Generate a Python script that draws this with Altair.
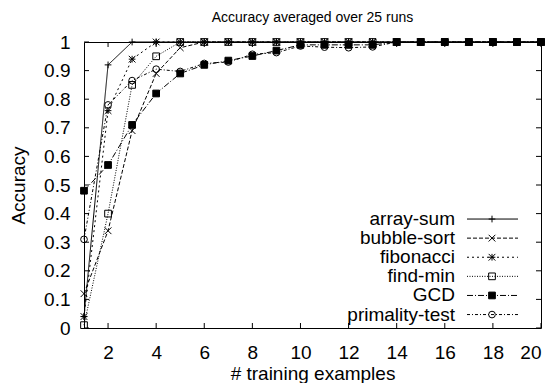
import altair as alt
import pandas as pd

# ---- data ----
x_values = [1, 2, 3, 4, 5, 6, 7, 8, 9, 10, 11, 12, 13, 14, 15, 16, 17, 18, 19, 20]
array_sum = [0.04, 0.92, 1.0, 1.0, 1.0, 1.0, 1.0, 1.0, 1.0, 1.0, 1.0, 1.0, 1.0, 1.0, 1.0, 1.0, 1.0, 1.0, 1.0, 1.0]
bubble_sort = [0.12, 0.34, 0.69, 0.89, 0.98, 1.0, 1.0, 1.0, 1.0, 1.0, 1.0, 1.0, 1.0, 1.0, 1.0, 1.0, 1.0, 1.0, 1.0, 1.0]
fibonacci = [0.04, 0.76, 0.94, 1.0, 1.0, 1.0, 1.0, 1.0, 1.0, 1.0, 1.0, 1.0, 1.0, 1.0, 1.0, 1.0, 1.0, 1.0, 1.0, 1.0]
find_min = [0.01, 0.40, 0.85, 0.95, 1.0, 1.0, 1.0, 1.0, 1.0, 1.0, 1.0, 1.0, 1.0, 1.0, 1.0, 1.0, 1.0, 1.0, 1.0, 1.0]
gcd = [0.48, 0.57, 0.71, 0.82, 0.89, 0.92, 0.935, 0.951, 0.97, 0.99, 0.99, 0.99, 0.99, 1.0, 1.0, 1.0, 1.0, 1.0, 1.0, 1.0]
primality_test = [0.31, 0.78, 0.865, 0.905, 0.897, 0.925, 0.93, 0.957, 0.963, 0.986, 0.982, 0.98, 0.983, 1.0, 1.0, 1.0, 1.0, 1.0, 1.0, 1.0]

series_names = ["array-sum", "bubble-sort", "fibonacci", "find-min", "GCD", "primality-test"]
series_values = [array_sum, bubble_sort, fibonacci, find_min, gcd, primality_test]

x_tick_values = [2, 4, 6, 8, 10, 12, 14, 16, 18, 20]
y_tick_values = [0, 0.1, 0.2, 0.3, 0.4, 0.5, 0.6, 0.7, 0.8, 0.9, 1.0]

chart_title = ["Accuracy averaged over 25 runs"]

# ---- styles ----
PLUS = "M-1,0L1,0M0,-1L0,1"
CROSS = "M-1,-1L1,1M-1,1L1,-1"
STAR = PLUS + CROSS
dash_range = [[1, 0], [4, 2], [2, 3], [1, 1.5], [6, 2, 1, 2], [3, 2, 1, 2]]
shape_range = [PLUS, CROSS, STAR, "square", "square", "circle"]
fill_range = ["transparent", "transparent", "transparent", "transparent", "black", "transparent"]

W, H = 457, 286
FS = 19
TITLE_FS = 14

rows = []
for name, vals in zip(series_names, series_values):
    for x, v in zip(x_values, vals):
        rows.append({"name": name, "x": x, "y": v})
df = pd.DataFrame(rows)

legend_df = pd.DataFrame({"name": series_names, "idx": list(range(len(series_names)))})
xt_df = pd.DataFrame({"x": x_tick_values})
yt_df = pd.DataFrame({"y": y_tick_values})
title_df = pd.DataFrame({"t": chart_title})

xscale = alt.Scale(domain=[1, 20], nice=False, zero=False)
yscale = alt.Scale(domain=[0, 1], nice=False)
dash_scale = alt.Scale(domain=series_names, range=dash_range)
shape_scale = alt.Scale(domain=series_names, range=shape_range)
fill_scale = alt.Scale(domain=series_names, range=fill_range)

x_axis = alt.Axis(values=x_tick_values, title="# training examples", ticks=False, tickSize=0,
                  domain=False, grid=False, labelFontSize=FS, labelPadding=15,
                  titleFontSize=FS, titleFontWeight="normal", titleY=45, titleBaseline="middle")
y_axis = alt.Axis(values=y_tick_values, format=".1~f", title="Accuracy", ticks=False, tickSize=0,
                  domain=False, grid=False, labelFontSize=FS, labelPadding=14,
                  titleFontSize=FS, titleFontWeight="normal", titleX=-66, titleBaseline="middle")

X = alt.X("x:Q", scale=xscale, axis=x_axis)
Y = alt.Y("y:Q", scale=yscale, axis=y_axis)

base = alt.Chart(df)
lines = base.mark_line(color="black", strokeWidth=1).encode(
    x=X, y=Y,
    strokeDash=alt.StrokeDash("name:N", scale=dash_scale, legend=None),
    detail="name:N",
)
points = base.mark_point(color="black", stroke="black", strokeWidth=1, size=45, opacity=1, fillOpacity=1).encode(
    x=X, y=Y,
    shape=alt.Shape("name:N", scale=shape_scale, legend=None),
    fill=alt.Fill("name:N", scale=fill_scale, legend=None),
)

tick_len = 5
xt_bottom = alt.Chart(xt_df).mark_rule(color="black", strokeWidth=1).encode(
    x=X, y=alt.value(H), y2=alt.value(H - tick_len))
xt_top = alt.Chart(xt_df).mark_rule(color="black", strokeWidth=1).encode(
    x=X, y=alt.value(0), y2=alt.value(tick_len))
yt_left = alt.Chart(yt_df).mark_rule(color="black", strokeWidth=1).encode(
    y=Y, x=alt.value(0), x2=alt.value(tick_len))
yt_right = alt.Chart(yt_df).mark_rule(color="black", strokeWidth=1).encode(
    y=Y, x=alt.value(W), x2=alt.value(W - tick_len))

# legend (gnuplot style: label left, sample right), rows placed in data units
leg = alt.Chart(legend_df).transform_calculate(y="0.381 - datum.idx * 0.0668")
leg_text = leg.mark_text(align="right", baseline="middle", fontSize=FS, color="black").encode(
    x=alt.value(371), y=Y, text="name:N")
leg_line = leg.mark_rule(color="black", strokeWidth=1).encode(
    x=alt.value(383), x2=alt.value(434), y=Y,
    strokeDash=alt.StrokeDash("name:N", scale=dash_scale, legend=None))
leg_point = leg.mark_point(color="black", stroke="black", strokeWidth=1, size=45, opacity=1, fillOpacity=1).encode(
    x=alt.value(408), y=Y,
    shape=alt.Shape("name:N", scale=shape_scale, legend=None),
    fill=alt.Fill("name:N", scale=fill_scale, legend=None))

# chart title as a text mark above the plot
title_mark = alt.Chart(title_df).mark_text(
    align="center", baseline="alphabetic", fontSize=TITLE_FS, color="black"
).encode(x=alt.value(W / 2), y=alt.value(-20), text="t:N")

chart = alt.layer(
    lines, points, xt_bottom, xt_top, yt_left, yt_right, leg_line, leg_point, leg_text, title_mark
).properties(
    width=W, height=H,
    autosize=alt.AutoSizeParams(type="none"),
    padding={"left": 76, "top": 34, "right": 5, "bottom": 55},
).configure(
    font="Liberation Sans",
).configure_view(
    stroke="black", strokeWidth=1,
).configure_axis(
    labelColor="black", titleColor="black",
)

chart.save("out.html", embed_options={"renderer": "svg", "actions": False})
